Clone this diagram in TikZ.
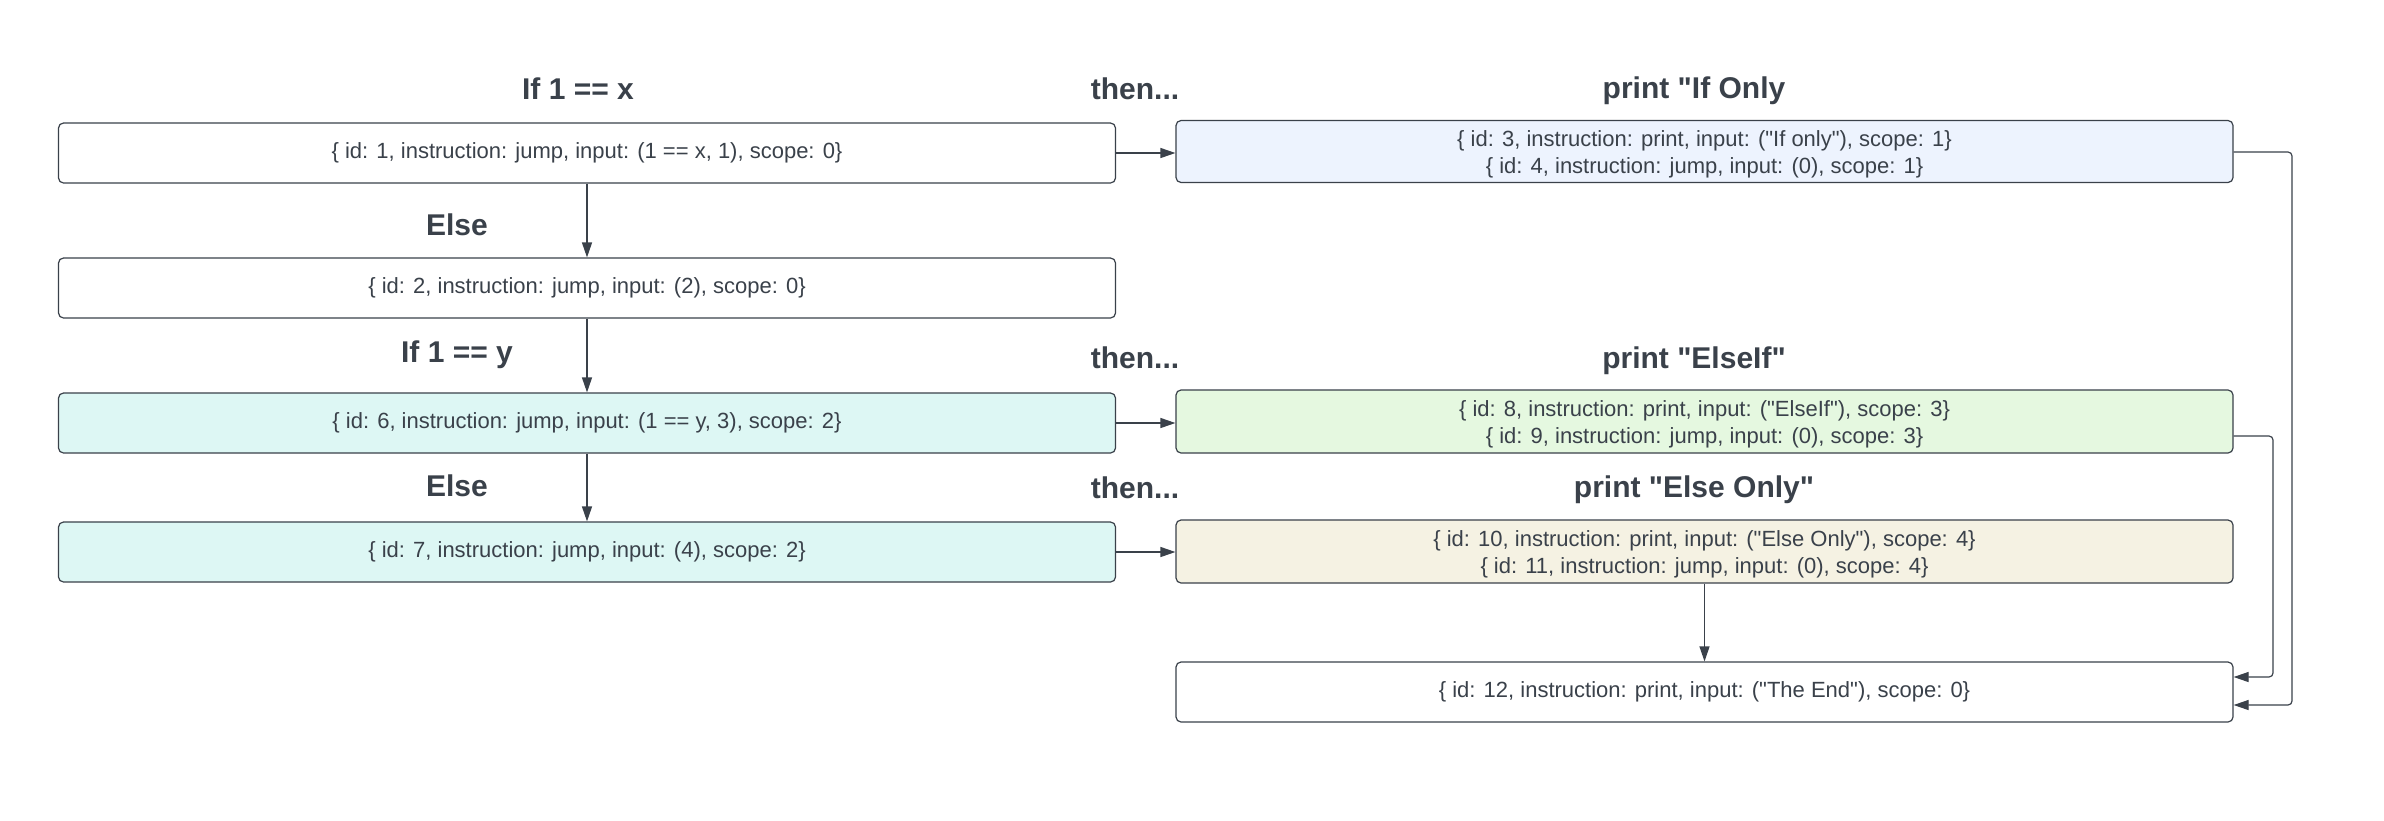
\documentclass[tikz,border=0pt]{standalone}
\usepackage{fontspec}
\setmainfont{Liberation Sans}[Ligatures=TeXOff]
\usetikzlibrary{arrows.meta}
\newcommand{\dq}{\char34\relax}
\newcommand{\lup}{\rule{0pt}{22pt}}
\definecolor{ink}{HTML}{3A414A}
\definecolor{fblue}{HTML}{EDF3FE}
\definecolor{fcyan}{HTML}{DDF7F4}
\definecolor{fgreen}{HTML}{E5F8E0}
\definecolor{fbeige}{HTML}{F5F2E3}
\tikzset{
  instr/.style={draw=ink, line width=1.2pt, rounded corners=5pt, text=ink,
    minimum width=1057pt, inner sep=0pt, align=center,
    font=\fontsize{22}{27}\selectfont},
  ttl/.style={text=ink, anchor=base, inner sep=0pt,
    font=\fontsize{30}{36}\selectfont\bfseries},
  conn/.style={draw=ink, line width=1.2pt, rounded corners=4pt,
    -{Triangle[length=15pt,width=10pt]}}
}
\begin{document}
\begin{tikzpicture}[x=1pt,y=-1pt]
\useasboundingbox[fill=white] (0,0) rectangle (2384,820);
% boxes
\node[instr, minimum height=60pt] (b1) at (587,153) {\{ id: 1, instruction: jump, input: (1 == x, 1), scope: 0\}};
\node[instr, minimum height=62pt, fill=fblue] (b3) at (1704.5,151.5) {\lup\{ id: 3, instruction: print, input: (\dq If only\dq), scope: 1\}\\\{ id: 4, instruction: jump, input: (0), scope: 1\}};
\node[instr, minimum height=60pt] (b2) at (587,288) {\{ id: 2, instruction: jump, input: (2), scope: 0\}};
\node[instr, minimum height=60pt, fill=fcyan] (b6) at (587,423) {\{ id: 6, instruction: jump, input: (1 == y, 3), scope: 2\}};
\node[instr, minimum height=63pt, fill=fgreen] (b8) at (1704.5,421.5) {\lup\{ id: 8, instruction: print, input: (\dq ElseIf\dq), scope: 3\}\\\{ id: 9, instruction: jump, input: (0), scope: 3\}};
\node[instr, minimum height=60pt, fill=fcyan] (b7) at (587,552) {\{ id: 7, instruction: jump, input: (4), scope: 2\}};
\node[instr, minimum height=63pt, fill=fbeige] (b10) at (1704.5,551.5) {\lup\{ id: 10, instruction: print, input: (\dq Else Only\dq), scope: 4\}\\\{ id: 11, instruction: jump, input: (0), scope: 4\}};
\node[instr, minimum height=60pt] (b12) at (1704.5,692) {\{ id: 12, instruction: print, input: (\dq The End\dq), scope: 0\}};
% titles
\node[ttl] (t1) at (578,99) {If 1 == x};
\node[ttl] (t2) at (1135,99) {then...};
\node[ttl] (t3) at (1694,98) {print \dq If Only};
\node[ttl] (t4) at (457,235) {Else};
\node[ttl] (t5) at (457,362) {If 1 == y};
\node[ttl] (t6) at (1135,368) {then...};
\node[ttl] (t7) at (1694,368) {print \dq ElseIf\dq};
\node[ttl] (t8) at (457,496) {Else};
\node[ttl] (t9) at (1135,498) {then...};
\node[ttl] (t10) at (1694,497) {print \dq Else Only\dq};
% connectors
\draw[conn] (b1.east) -- (b1.east -| b3.west);
\draw[conn] (b1.south) -- (b2.north);
\draw[conn] (b2.south) -- (b6.north);
\draw[conn] (b6.south) -- (b7.north);
\draw[conn] (b6.east) -- (b6.east -| b8.west);
\draw[conn] (b7.east) -- (b7.east -| b10.west);
\draw[conn] (b10.south) -- (b12.north);
\coordinate (r1) at (2292,152);
\coordinate (r2) at (2292,705);
\coordinate (e1) at (b12.east |- r2);
\draw[conn] (b3.east |- r1) -- (r1) -- (r2) -- (e1);
\coordinate (s1) at (2273,436);
\coordinate (s2) at (2273,677);
\coordinate (e2) at (b12.east |- s2);
\draw[conn] (b8.east |- s1) -- (s1) -- (s2) -- (e2);
\end{tikzpicture}
\end{document}
